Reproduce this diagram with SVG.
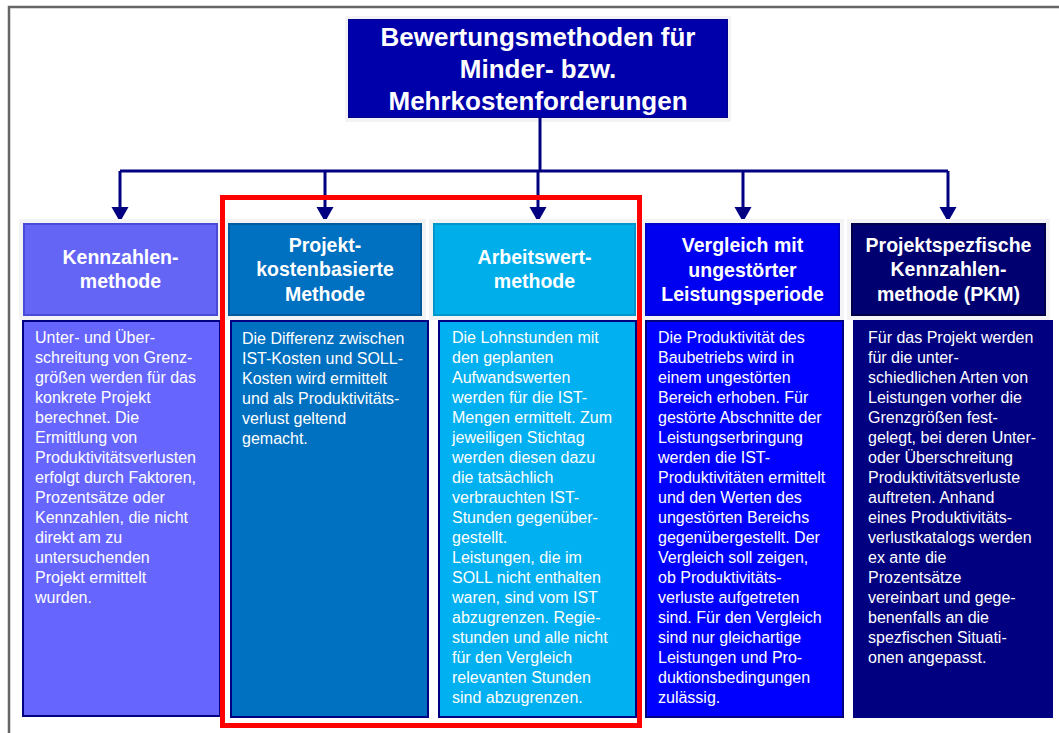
<svg xmlns="http://www.w3.org/2000/svg" width="1059" height="733" viewBox="0 0 1059 733">
<style>
.title{font-family:"Liberation Sans",Arial,sans-serif;font-weight:bold;font-size:26px;fill:#fff;text-anchor:middle}
.head{font-family:"Liberation Sans",Arial,sans-serif;font-weight:bold;font-size:19.5px;fill:#fff;text-anchor:middle}
.body{font-family:"Liberation Sans",Arial,sans-serif;font-size:16px;fill:#fff}
.conn{fill:none;stroke:#000080;stroke-width:3}
.halo{fill:#f3f3f6}
.bodybox{stroke:#000080;stroke-width:2}
</style>
<defs>
<marker id="arr" markerWidth="18" markerHeight="18" refX="15" refY="9" orient="auto" markerUnits="userSpaceOnUse">
<path d="M0,0.5 L15,9 L0,17.5 Z" fill="#000080"/>
</marker>
</defs>
<rect width="1059" height="733" fill="#fff"/>
<path d="M9,733 V7 H1059" fill="none" stroke="#666" stroke-width="2.5"/>

<g id="title">
<rect x="345" y="16" width="386" height="106" class="halo"/>
<rect x="348.5" y="19.5" width="379" height="98" fill="#0000AA" stroke="#00008a" stroke-width="1"/>
<text class="title" x="538" y="46">Bewertungsmethoden für</text>
<text class="title" x="538" y="78">Minder- bzw.</text>
<text class="title" x="538" y="110">Mehrkostenforderungen</text>
</g>

<g id="connectors">
<path class="conn" d="M540,118 V171"/>
<path class="conn" d="M120,171 H948"/>
<path class="conn" d="M120,171 V222" marker-end="url(#arr)"/>
<path class="conn" d="M325,171 V222" marker-end="url(#arr)"/>
<path class="conn" d="M538,171 V222" marker-end="url(#arr)"/>
<path class="conn" d="M743,171 V222" marker-end="url(#arr)"/>
<path class="conn" d="M948,171 V222" marker-end="url(#arr)"/>
</g>

<g id="n1">
<rect x="19" y="219" width="203" height="101" class="halo"/>
<rect x="24" y="224" width="193" height="91" fill="#6464F5" stroke="#4a4ad8" stroke-width="2"/>
<text class="head" x="120.5" y="264">Kennzahlen-</text>
<text class="head" x="120.5" y="288">methode</text>
<rect x="23" y="321" width="197" height="395" fill="#6666FF" class="bodybox"/>
<text class="body" x="35" y="343">Unter- und Über-</text>
<text class="body" x="35" y="363">schreitung von Grenz-</text>
<text class="body" x="35" y="383">größen werden für das</text>
<text class="body" x="35" y="403">konkrete Projekt</text>
<text class="body" x="35" y="423">berechnet. Die</text>
<text class="body" x="35" y="443">Ermittlung von</text>
<text class="body" x="35" y="463">Produktivitätsverlusten</text>
<text class="body" x="35" y="483">erfolgt durch Faktoren,</text>
<text class="body" x="35" y="503">Prozentsätze oder</text>
<text class="body" x="35" y="523">Kennzahlen, die nicht</text>
<text class="body" x="35" y="543">direkt am zu</text>
<text class="body" x="35" y="563">untersuchenden</text>
<text class="body" x="35" y="583">Projekt ermittelt</text>
<text class="body" x="35" y="603">wurden.</text>
</g>

<g id="n2">
<rect x="224" y="219" width="202" height="101" class="halo"/>
<rect x="229" y="224" width="192" height="91" fill="#0070C0" stroke="#005a9e" stroke-width="2"/>
<text class="head" x="325" y="252">Projekt-</text>
<text class="head" x="325" y="276">kostenbasierte</text>
<text class="head" x="325" y="301">Methode</text>
<rect x="231" y="321" width="197" height="396" fill="#0070C0" class="bodybox"/>
<text class="body" x="242" y="344">Die Differenz zwischen</text>
<text class="body" x="242" y="364">IST-Kosten und SOLL-</text>
<text class="body" x="242" y="384">Kosten wird ermittelt</text>
<text class="body" x="242" y="404">und als Produktivitäts-</text>
<text class="body" x="242" y="424">verlust geltend</text>
<text class="body" x="242" y="444">gemacht.</text>
</g>

<g id="n3">
<rect x="429" y="219" width="211" height="101" class="halo"/>
<rect x="434" y="224" width="201" height="91" fill="#00AEEA" stroke="#0096cc" stroke-width="2"/>
<text class="head" x="534.5" y="264">Arbeitswert-</text>
<text class="head" x="534.5" y="288">methode</text>
<rect x="439" y="321" width="197" height="396" fill="#00B0F0" class="bodybox"/>
<text class="body" x="452" y="343">Die Lohnstunden mit</text>
<text class="body" x="452" y="363">den geplanten</text>
<text class="body" x="452" y="383">Aufwandswerten</text>
<text class="body" x="452" y="403">werden für die IST-</text>
<text class="body" x="452" y="423">Mengen ermittelt. Zum</text>
<text class="body" x="452" y="443">jeweiligen Stichtag</text>
<text class="body" x="452" y="463">werden diesen dazu</text>
<text class="body" x="452" y="483">die tatsächlich</text>
<text class="body" x="452" y="503">verbrauchten IST-</text>
<text class="body" x="452" y="523">Stunden gegenüber-</text>
<text class="body" x="452" y="543">gestellt.</text>
<text class="body" x="452" y="563">Leistungen, die im</text>
<text class="body" x="452" y="583">SOLL nicht enthalten</text>
<text class="body" x="452" y="603">waren, sind vom IST</text>
<text class="body" x="452" y="623">abzugrenzen. Regie-</text>
<text class="body" x="452" y="643">stunden und alle nicht</text>
<text class="body" x="452" y="663">für den Vergleich</text>
<text class="body" x="452" y="683">relevanten Stunden</text>
<text class="body" x="452" y="703">sind abzugrenzen.</text>
</g>

<g id="n4">
<rect x="641" y="219" width="203" height="101" class="halo"/>
<rect x="646" y="224" width="193" height="91" fill="#0000F0" stroke="#0000c8" stroke-width="2"/>
<text class="head" x="742.5" y="252">Vergleich mit</text>
<text class="head" x="742.5" y="277">ungestörter</text>
<text class="head" x="742.5" y="301">Leistungsperiode</text>
<rect x="646" y="321" width="197" height="396" fill="#0000FF" class="bodybox"/>
<text class="body" x="658" y="343">Die Produktivität des</text>
<text class="body" x="658" y="363">Baubetriebs wird in</text>
<text class="body" x="658" y="383">einem ungestörten</text>
<text class="body" x="658" y="403">Bereich erhoben. Für</text>
<text class="body" x="658" y="423">gestörte Abschnitte der</text>
<text class="body" x="658" y="443">Leistungserbringung</text>
<text class="body" x="658" y="463">werden die IST-</text>
<text class="body" x="658" y="483">Produktivitäten ermittelt</text>
<text class="body" x="658" y="503">und den Werten des</text>
<text class="body" x="658" y="523">ungestörten Bereichs</text>
<text class="body" x="658" y="543">gegenübergestellt. Der</text>
<text class="body" x="658" y="563">Vergleich soll zeigen,</text>
<text class="body" x="658" y="583">ob Produktivitäts-</text>
<text class="body" x="658" y="603">verluste aufgetreten</text>
<text class="body" x="658" y="623">sind. Für den Vergleich</text>
<text class="body" x="658" y="643">sind nur gleichartige</text>
<text class="body" x="658" y="663">Leistungen und Pro-</text>
<text class="body" x="658" y="683">duktionsbedingungen</text>
<text class="body" x="658" y="703">zulässig.</text>
</g>

<g id="n5">
<rect x="847" y="219" width="203" height="101" class="halo"/>
<rect x="852" y="224" width="193" height="91" fill="#000070" stroke="#00004a" stroke-width="2"/>
<text class="head" x="948.5" y="252">Projektspezfische</text>
<text class="head" x="948.5" y="276">Kennzahlen-</text>
<text class="head" x="948.5" y="301">methode (PKM)</text>
<rect x="853" y="320" width="200" height="398" fill="#000080"/>
<text class="body" x="868" y="343">Für das Projekt werden</text>
<text class="body" x="868" y="363">für die unter-</text>
<text class="body" x="868" y="383">schiedlichen Arten von</text>
<text class="body" x="868" y="403">Leistungen vorher die</text>
<text class="body" x="868" y="423">Grenzgrößen fest-</text>
<text class="body" x="868" y="443">gelegt, bei deren Unter-</text>
<text class="body" x="868" y="463">oder Überschreitung</text>
<text class="body" x="868" y="483">Produktivitätsverluste</text>
<text class="body" x="868" y="503">auftreten. Anhand</text>
<text class="body" x="868" y="523">eines Produktivitäts-</text>
<text class="body" x="868" y="543">verlustkatalogs werden</text>
<text class="body" x="868" y="563">ex ante die</text>
<text class="body" x="868" y="583">Prozentsätze</text>
<text class="body" x="868" y="603">vereinbart und gege-</text>
<text class="body" x="868" y="623">benenfalls an die</text>
<text class="body" x="868" y="643">spezfischen Situati-</text>
<text class="body" x="868" y="663">onen angepasst.</text>
</g>

<rect id="highlight" x="222.5" y="197.5" width="417" height="528" fill="none" stroke="#FF0000" stroke-width="5"/>
</svg>
